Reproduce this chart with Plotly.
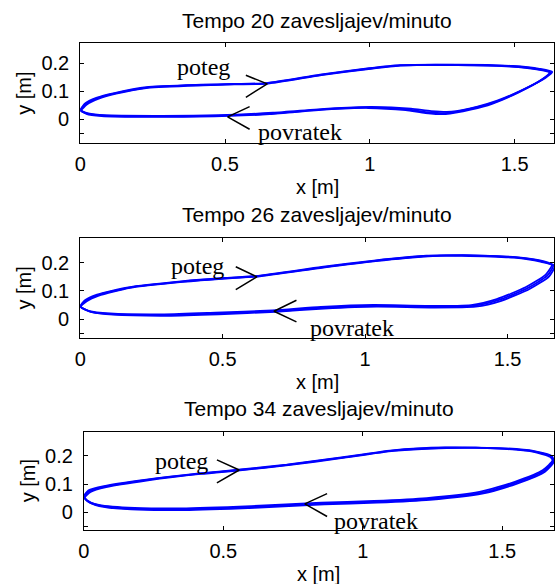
import plotly.graph_objects as go

W, H = 556, 584

# ---- Tempo 20 strokes/min: three recorded cycles (x, y in metres) ----
t20_x1 = [0.000, 0.020, 0.060, 0.120, 0.230, 0.420, 0.530, 0.645, 0.830, 1.000, 1.100, 1.300, 1.490, 1.580, 1.625,
          1.600, 1.520, 1.430, 1.360, 1.270, 1.200, 1.130, 1.000, 0.850, 0.660, 0.470, 0.250, 0.080, 0.025, 0.000]
t20_y1 = [0.032, 0.055, 0.075, 0.092, 0.113, 0.122, 0.125, 0.128, 0.158, 0.181, 0.192, 0.194, 0.189, 0.179, 0.168,
          0.145, 0.100, 0.060, 0.040, 0.022, 0.025, 0.035, 0.042, 0.036, 0.020, 0.012, 0.010, 0.013, 0.020, 0.032]
t20_x2 = [0.004, 0.024, 0.064, 0.124, 0.234, 0.424, 0.534, 0.648, 0.833, 1.003, 1.106, 1.306, 1.493, 1.586, 1.630,
          1.606, 1.528, 1.440, 1.372, 1.282, 1.212, 1.142, 1.006, 0.856, 0.666, 0.476, 0.256, 0.086, 0.028, 0.004]
t20_y2 = [0.031, 0.053, 0.073, 0.091, 0.112, 0.121, 0.124, 0.127, 0.157, 0.180, 0.191, 0.195, 0.190, 0.180, 0.169,
          0.147, 0.105, 0.066, 0.045, 0.027, 0.029, 0.038, 0.044, 0.038, 0.023, 0.014, 0.012, 0.014, 0.021, 0.031]
t20_x3 = [0.002, 0.018, 0.058, 0.118, 0.228, 0.418, 0.528, 0.642, 0.828, 0.998, 1.104, 1.304, 1.486, 1.576, 1.620,
          1.594, 1.512, 1.422, 1.352, 1.262, 1.192, 1.124, 0.994, 0.844, 0.654, 0.464, 0.244, 0.074, 0.022, 0.002]
t20_y3 = [0.034, 0.057, 0.077, 0.093, 0.114, 0.123, 0.126, 0.129, 0.159, 0.182, 0.193, 0.193, 0.188, 0.178, 0.167,
          0.142, 0.095, 0.055, 0.035, 0.018, 0.022, 0.032, 0.040, 0.034, 0.018, 0.010, 0.008, 0.011, 0.019, 0.034]

# ---- Tempo 26 strokes/min ----
t26_x1 = [0.000, 0.020, 0.062, 0.172, 0.357, 0.505, 0.620, 0.850, 1.034, 1.219, 1.342, 1.527, 1.620, 1.660,
          1.640, 1.570, 1.470, 1.380, 1.220, 1.034, 0.850, 0.680, 0.480, 0.300, 0.110, 0.037, 0.000]
t26_y1 = [0.044, 0.065, 0.085, 0.112, 0.133, 0.145, 0.152, 0.184, 0.207, 0.224, 0.226, 0.219, 0.205, 0.190,
          0.155, 0.110, 0.068, 0.047, 0.044, 0.047, 0.040, 0.028, 0.020, 0.014, 0.018, 0.026, 0.044]
t26_x2 = [0.003, 0.023, 0.065, 0.175, 0.359, 0.508, 0.623, 0.853, 1.037, 1.222, 1.346, 1.531, 1.625, 1.665,
          1.646, 1.577, 1.478, 1.388, 1.228, 1.040, 0.856, 0.686, 0.486, 0.306, 0.116, 0.042, 0.003]
t26_y2 = [0.043, 0.063, 0.083, 0.111, 0.132, 0.144, 0.151, 0.183, 0.206, 0.223, 0.227, 0.220, 0.206, 0.188,
          0.152, 0.107, 0.065, 0.044, 0.041, 0.044, 0.037, 0.026, 0.017, 0.012, 0.016, 0.025, 0.043]
t26_x3 = [0.001, 0.017, 0.059, 0.169, 0.354, 0.502, 0.617, 0.847, 1.031, 1.215, 1.338, 1.523, 1.615, 1.655,
          1.634, 1.563, 1.462, 1.372, 1.212, 1.028, 0.845, 0.675, 0.475, 0.295, 0.105, 0.033, 0.001]
t26_y3 = [0.045, 0.067, 0.087, 0.113, 0.134, 0.146, 0.153, 0.185, 0.208, 0.225, 0.225, 0.218, 0.204, 0.192,
          0.158, 0.113, 0.071, 0.050, 0.047, 0.050, 0.043, 0.031, 0.023, 0.017, 0.020, 0.028, 0.045]

# ---- Tempo 34 strokes/min ----
t34_x1 = [0.000, 0.020, 0.076, 0.227, 0.416, 0.557, 0.730, 0.919, 1.108, 1.297, 1.486, 1.612, 1.675, 1.683,
          1.650, 1.549, 1.423, 1.234, 1.045, 0.856, 0.605, 0.353, 0.164, 0.050, 0.013, 0.000]
t34_y1 = [0.055, 0.075, 0.091, 0.115, 0.137, 0.150, 0.168, 0.193, 0.219, 0.229, 0.227, 0.216, 0.198, 0.182,
          0.147, 0.105, 0.069, 0.047, 0.037, 0.031, 0.019, 0.011, 0.013, 0.025, 0.040, 0.055]
t34_x2 = [0.003, 0.024, 0.080, 0.230, 0.419, 0.560, 0.733, 0.922, 1.111, 1.300, 1.488, 1.615, 1.678, 1.685,
          1.653, 1.553, 1.428, 1.240, 1.051, 0.862, 0.611, 0.359, 0.170, 0.055, 0.016, 0.003]
t34_y2 = [0.052, 0.072, 0.089, 0.113, 0.136, 0.149, 0.167, 0.192, 0.218, 0.228, 0.228, 0.217, 0.199, 0.180,
          0.144, 0.102, 0.066, 0.044, 0.034, 0.028, 0.016, 0.008, 0.010, 0.022, 0.037, 0.052]
t34_x3 = [0.001, 0.017, 0.072, 0.224, 0.413, 0.554, 0.727, 0.916, 1.105, 1.294, 1.484, 1.609, 1.671, 1.680,
          1.646, 1.545, 1.418, 1.229, 1.040, 0.851, 0.600, 0.348, 0.159, 0.046, 0.011, 0.001]
t34_y3 = [0.058, 0.078, 0.093, 0.116, 0.138, 0.151, 0.169, 0.194, 0.220, 0.230, 0.226, 0.215, 0.197, 0.184,
          0.150, 0.108, 0.072, 0.050, 0.040, 0.034, 0.022, 0.014, 0.016, 0.028, 0.043, 0.058]

titles = ["Tempo 20 zavesljajev/minuto", "Tempo 26 zavesljajev/minuto", "Tempo 34 zavesljajev/minuto"]

# direction marks: (tail_x, tip_x, tail_y_upper, tip_y, tail_y_lower)
pull_arrow = [(0.572, 0.646, 0.157, 0.126, 0.078),
              (0.546, 0.620, 0.186, 0.150, 0.105),
              (0.477, 0.557, 0.186, 0.150, 0.104)]
return_arrow = [(0.585, 0.509, 0.045, 0.008, -0.036),
                (0.759, 0.680, 0.067, 0.028, -0.010),
                (0.872, 0.792, 0.066, 0.030, -0.015)]
pull_label = [(0.427, 0.187), (0.413, 0.190), (0.351, 0.183)]
return_label = [(0.760, -0.047), (0.954, -0.033), (1.049, -0.031)]

x_ranges = [[0, 1.636], [0, 1.663], [0, 1.6855]]
y_ranges = [[-0.084, 0.271], [-0.066, 0.289], [-0.063, 0.286]]

# panel boxes in pixels: left, right, top, bottom
boxes = [(75.0, 554.0, 43.3, 142.7),
         (75.0, 554.0, 237.7, 337.7),
         (78.7, 554.0, 431.7, 530.0)]

cycles = [
    [(t20_x1, t20_y1), (t20_x2, t20_y2), (t20_x3, t20_y3)],
    [(t26_x1, t26_y1), (t26_x2, t26_y2), (t26_x3, t26_y3)],
    [(t34_x1, t34_y1), (t34_x2, t34_y2), (t34_x3, t34_y3)],
]

SANS = "Liberation Sans, Arial, Helvetica, sans-serif"
SERIF = "Liberation Serif, Times New Roman, serif"
FS = 20
FS_TITLE = 21

fig = go.Figure()
layout = dict(
    width=W, height=H,
    margin=dict(l=0, r=0, t=0, b=0),
    paper_bgcolor="white", plot_bgcolor="white",
    showlegend=False,
    annotations=[],
)

for i in range(3):
    ax = "" if i == 0 else str(i + 1)
    xref, yref = "x" + ax, "y" + ax
    for cx, cy in cycles[i]:
        fig.add_trace(go.Scatter(
            x=cx, y=cy, mode="lines", xaxis=xref, yaxis=yref,
            line=dict(color="#0000ff", width=1.8, shape="spline", smoothing=0.6),
            hoverinfo="skip"))
    for tx, tip, yu, ty, yl in (pull_arrow[i], return_arrow[i]):
        fig.add_trace(go.Scatter(
            x=[tx, tip, tx], y=[yu, ty, yl], mode="lines", xaxis=xref, yaxis=yref,
            line=dict(color="black", width=1.5), hoverinfo="skip"))

    l, r, t, b = boxes[i]
    common = dict(showline=True, linecolor="black", linewidth=1, mirror="ticks",
                  ticks="inside", ticklen=4, tickcolor="black", tickwidth=1,
                  showgrid=False, zeroline=False,
                  tickfont=dict(family=SANS, size=FS, color="black"))
    layout["xaxis" + ax] = dict(
        domain=[l / W, r / W], range=x_ranges[i], anchor=yref,
        tickvals=[0, 0.5, 1, 1.5], ticktext=["0", "0.5", "1", "1.5"],
        ticklabelstandoff=3, **common)
    layout["yaxis" + ax] = dict(
        domain=[1 - b / H, 1 - t / H], range=y_ranges[i], anchor=xref,
        tickvals=[-0.05, 0, 0.1, 0.2], ticktext=["", "0", "0.1", "0.2"],
        ticklabelstandoff=6, **common)

    cxp = (l + r) / 2 / W
    layout["annotations"] += [
        dict(text=titles[i], xref="paper", yref="paper", x=cxp, y=1 - (t - 23) / H,
             xanchor="center", yanchor="middle", showarrow=False,
             font=dict(family=SANS, size=FS_TITLE, color="black")),
        dict(text="x [m]", xref="paper", yref="paper", x=cxp, y=1 - (b + 44) / H,
             xanchor="center", yanchor="middle", showarrow=False,
             font=dict(family=SANS, size=FS, color="black")),
        dict(text="y [m]", xref="paper", yref="paper", x=(l - 57) / W, y=1 - (t + b) / 2 / H,
             xanchor="center", yanchor="middle", showarrow=False, textangle=-90,
             font=dict(family=SANS, size=FS, color="black")),
        dict(text="poteg", xref=xref, yref=yref, x=pull_label[i][0], y=pull_label[i][1],
             xanchor="center", yanchor="middle", showarrow=False,
             font=dict(family=SERIF, size=24, color="black")),
        dict(text="povratek", xref=xref, yref=yref, x=return_label[i][0], y=return_label[i][1],
             xanchor="center", yanchor="middle", showarrow=False,
             font=dict(family=SERIF, size=24, color="black")),
    ]

fig.update_layout(**layout)
fig.write_html("out.html")
